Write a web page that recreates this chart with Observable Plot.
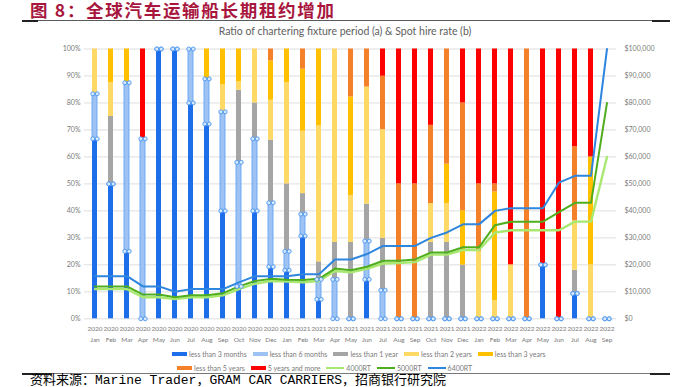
<!DOCTYPE html>
<html><head><meta charset="utf-8">
<script src="https://cdn.jsdelivr.net/npm/d3@7"></script>
<script src="https://cdn.jsdelivr.net/npm/@observablehq/plot@0.6"></script>
<style>
body{margin:0;background:#fff;width:690px;height:387px;overflow:hidden;position:relative;font-family:Lato,"Open Sans",sans-serif;}
#t{position:absolute;left:30px;top:1px;font:bold 17.5px/17.5px "Noto Sans CJK SC";color:#a8163e;white-space:nowrap;letter-spacing:1.7px}
.rule{position:absolute;left:22px;width:648px;height:1px;background:#5a5a5a}
.rule b{position:absolute;top:-0.5px;height:2px;background:#222}
#ct{position:absolute;left:0;width:690px;top:25px;text-align:center;font-size:10.5px;color:#606060}
#chart{position:absolute;left:0;top:40px}
.leg{position:absolute;display:flex;align-items:center;font-size:7px;color:#7a7a7a;white-space:nowrap}
.leg span.sw{display:inline-block;width:15px;height:4px;margin-right:2px}
.leg span.ln{display:inline-block;width:18px;height:2px;margin-right:2px}
.leg span.tx{margin-right:6px}
#src{position:absolute;left:30px;top:374px;font-size:13px;line-height:14px;font-family:"Liberation Mono","Noto Sans CJK SC";color:#000;white-space:nowrap}
</style></head>
<body>
<div id="t">图 8：全球汽车运输船长期租约增加</div>
<div class="rule" style="top:20px"><b style="left:0;width:16px"></b><b style="right:0;width:18px"></b></div>
<div id="ct">Ratio of chartering fixture period (a) &amp; Spot hire rate (b)</div>
<div id="chart"></div>
<div class="leg" id="leg1" style="left:172px;top:350px"></div>
<div class="leg" id="leg2" style="left:177px;top:364px"></div>
<div class="rule" style="top:373px;background:#777"><b style="left:0;width:30px"></b><b style="right:0;width:20px"></b></div>
<div id="src">资料来源：Marine Trader，GRAM CAR CARRIERS，招商银行研究院</div>
<script>
const months = ["2020 Jan","2020 Feb","2020 Mar","2020 Apr","2020 May","2020 Jun","2020 Jul","2020 Aug","2020 Sep","2020 Oct","2020 Nov","2020 Dec",
"2021 Jan","2021 Feb","2021 Mar","2021 Apr","2021 May","2021 Jun","2021 Jul","2021 Aug","2021 Sep","2021 Oct","2021 Nov","2021 Dec",
"2022 Jan","2022 Feb","2022 Mar","2022 Apr","2022 May","2022 Jun","2022 Jul","2022 Aug","2022 Sep"];

const categories = ["less than 3 months","less than 6 months","less than 1 year","less than 2 years","less than 3 years","less than 5 years","5 years and more"];
const catColors = ["#1e6eeb","#9dc3f5","#a5a5a5","#ffd966","#ffc000","#f4812a","#ff0000"];

// share (%) per month, Jan 2020 .. Sep 2022
const lt3m = [66.7,50,25,0,100,100,80,72.2,40,12,40,19.3, 18,30.7,7.2,0,0,14.6,0,0,0,0,0,0, 0,0,0,0,20,0,9.4,0,0];
const lt6m = [16.7,0,62.5,66.7,0,0,20,16.7,36.7,46,26.7,23.7, 7,8.1,7.4,14.6,0,14.2,10.6,0,0,0,0,0, 0,0,0,0,0,0,0,0,0];
const lt1y = [0,25,0,0,0,0,0,0,0,26.7,13.3,23.2, 25,7.6,6.5,13.7,28.3,13.7,19.2,0,0,28.3,28.3,19.9, 0,0,0,0,0,0,8.6,0,0];
const lt2y = [16.6,12.5,0,0,0,0,0,0,10,3.1,20,14.8, 37.5,23.1,50.4,71.7,17.3,43.4,40.3,0,0,14.4,14.4,0, 25,6.8,20,0,0,0,18.3,20,0];
const lt3y = [0,12.5,12.5,0,0,0,0,11.1,13.3,12.2,0,14.6, 12.5,23,28.5,0,36.6,0,0,0,0,0,14.6,20.1, 0,40.2,0,0,0,0,0,40,0];
const lt5y = [0,0,0,0,0,0,0,0,0,0,0,4.4, 0,7.5,0,0,17.8,14.1,19.8,50,50,29,42.7,40, 25,3,0,100,0,0,27.5,0,0];
const ge5y = [0,0,0,33.3,0,0,0,0,0,0,0,0, 0,0,0,0,0,0,10.1,50,50,28.3,0,20, 50,50,80,0,80,100,36.2,40,0];

// spot hire rate (USD/day)
const rt4000 = [11000,11000,11000,8000,8000,7300,8000,8000,8700,11000,13000,14000, 13800,13500,14000,17700,17200,18500,20500,20700,21000,23800,23800,25500, 25500,32000,32800,32800,32800,32800,36000,36000,60000];
const rt5000 = [12000,12000,12000,9000,9000,8000,8700,8700,9500,12000,14000,14800, 14500,14400,14800,18600,18000,19300,21500,21500,22000,24600,24600,26500, 26500,34700,36000,36000,36000,39500,43000,43000,80000];
const rt6400 = [15800,15800,15800,12000,12000,10000,11000,11000,11000,13500,15800,15800, 15800,16500,16500,22000,22000,24000,27000,27000,27000,30000,32000,35000, 35000,40000,41000,41000,41000,50500,53000,53000,100000];

const lineNames = ["4000RT","5000RT","6400RT"];
const lineColors = ["#a8e870","#4fae1d","#2e86de"];

const yTicks = d3.range(0, 101, 10);
const series = [lt3m, lt6m, lt1y, lt2y, lt3y, lt5y, ge5y];
const bars = categories.flatMap((c, j) => months.map((m, i) => ({month: m, cat: c, value: series[j][i]})));
const lb = months.map((m, i) => ({month: m, lo: lt3m[i], hi: lt3m[i] + lt6m[i]}));
const rates = [rt4000, rt5000, rt6400];

const lineMarks = rates.map((r, k) => Plot.line(months, {x: m => m, y: (m, i) => r[i] / 1000, stroke: lineColors[k], strokeWidth: k === 0 ? 2.4 : 2, curve: "linear"}));

const chart = Plot.plot({
  width: 690, height: 305,
  marginTop: 8.5, marginBottom: 26.7, marginLeft: 84, marginRight: 74,
  x: {domain: months, paddingInner: 0.69, paddingOuter: 0.345, label: null},
  y: {domain: [0, 100], label: null},
  color: {domain: categories, range: catColors},
  style: {fontFamily: "Lato, 'Open Sans', sans-serif", fontSize: "7px", color: "#7a7a7a", background: "transparent"},
  marks: [
    Plot.gridY(yTicks, {stroke: "#dedede", strokeOpacity: 1}),
    Plot.axisY(yTicks, {anchor: "left", tickSize: 0, tickPadding: 4, tickFormat: d => d + "%", label: null}),
    Plot.axisY(yTicks, {anchor: "right", tickSize: 0, tickPadding: 8, tickFormat: d => "$" + d3.format(",")(d * 1000), label: null}),
    Plot.axisX(months, {tickSize: 0, tickPadding: 5, fontSize: 6.5, tickFormat: d => d.replace(" ", "\n"), lineHeight: 1.6, label: null}),
    Plot.barY(bars, {x: "month", y: "value", fill: "cat"}),
    Plot.barY(lb, {x: "month", y1: "lo", y2: "hi", fill: "none", stroke: "#5b9cf0", strokeWidth: 0.8}),
    ...lineMarks,
    Plot.dot(lb, {x: "month", y: "lo", r: 2, dx: -2.2, fill: "#d8e8fc", stroke: "#4a95ee", strokeWidth: 0.9}),
    Plot.dot(lb, {x: "month", y: "lo", r: 2, dx: 2.2, fill: "#d8e8fc", stroke: "#4a95ee", strokeWidth: 0.9}),
    Plot.dot(lb, {x: "month", y: "hi", r: 2, dx: -2.2, fill: "#d8e8fc", stroke: "#4a95ee", strokeWidth: 0.9}),
    Plot.dot(lb, {x: "month", y: "hi", r: 2, dx: 2.2, fill: "#d8e8fc", stroke: "#4a95ee", strokeWidth: 0.9})
  ]
});
document.getElementById("chart").appendChild(chart);

function addItem(el, label, color, isLine) {
  const s = document.createElement("span");
  s.className = isLine ? "ln" : "sw";
  s.style.background = color;
  const t = document.createElement("span");
  t.className = "tx";
  t.textContent = label;
  el.appendChild(s); el.appendChild(t);
}
const leg1 = document.getElementById("leg1"), leg2 = document.getElementById("leg2");
categories.slice(0, 5).forEach((c, i) => addItem(leg1, c, catColors[i], false));
categories.slice(5).forEach((c, i) => addItem(leg2, c, catColors[i + 5], false));
lineNames.forEach((n, i) => addItem(leg2, n, lineColors[i], true));
</script>
</body></html>
